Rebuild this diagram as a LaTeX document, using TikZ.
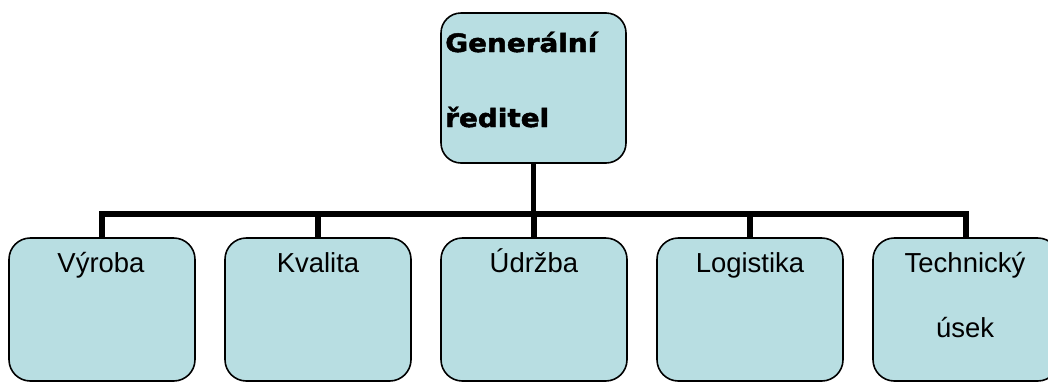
\documentclass[tikz,border=0pt]{standalone}
\usepackage{fontspec}
\setmainfont{Liberation Sans}
\newfontfamily\headfont[BoldFeatures={FakeBold=1.8,FakeStretch=1.1}]{DejaVu Sans}
\definecolor{boxfill}{RGB}{184,222,226}
\begin{document}
\begin{tikzpicture}[x=0.75pt,y=-0.75pt,
  orgbox/.style={draw=black,line width=1.2pt,fill=boxfill,rounded corners=16pt,
    minimum width=186*0.75pt,minimum height=143*0.75pt,inner sep=0pt},
  topbox/.style={orgbox,rounded corners=15pt,minimum width=185*0.75pt,minimum height=150*0.75pt},
  unitlabel/.style={anchor=base,font=\fontsize{20.6pt}{24pt}\selectfont,inner sep=0pt},
  headlabel/.style={anchor=base west,font=\headfont\bfseries\fontsize{19pt}{24pt}\selectfont,inner sep=0pt},
  conn/.style={draw=black,line width=4.2pt}]
\useasboundingbox (0,0) rectangle (1048,383);
\clip (0,0) rectangle (1048,383);

% director
\node[topbox] (gr) at (533.5,88) {};
\node[headlabel] (grA) at (445,52) {Generální};
\node[headlabel] (grB) at (445,127) {ředitel};

% departments
\node[orgbox] (d1) at (102,309.5) {};
\node[orgbox] (d2) at (318,309.5) {};
\node[orgbox] (d3) at (534,309.5) {};
\node[orgbox] (d4) at (750,309.5) {};
\node[orgbox] (d5) at (966,309.5) {};

\node[unitlabel] (t1) at (101,272) {Výroba};
\node[unitlabel] (t2) at (318,272) {Kvalita};
\node[unitlabel] (t3) at (534,272) {Údržba};
\node[unitlabel] (t4) at (750,272) {Logistika};
\node[unitlabel] (t5a) at (965,272) {Technický};
\node[unitlabel] (t5b) at (965,337) {úsek};

% tree connectors
\foreach \d in {d1,d2,d3,d4,d5}
  \draw[conn] (gr.south) -- ++(0,50) -| (\d.north);
\end{tikzpicture}
\end{document}
